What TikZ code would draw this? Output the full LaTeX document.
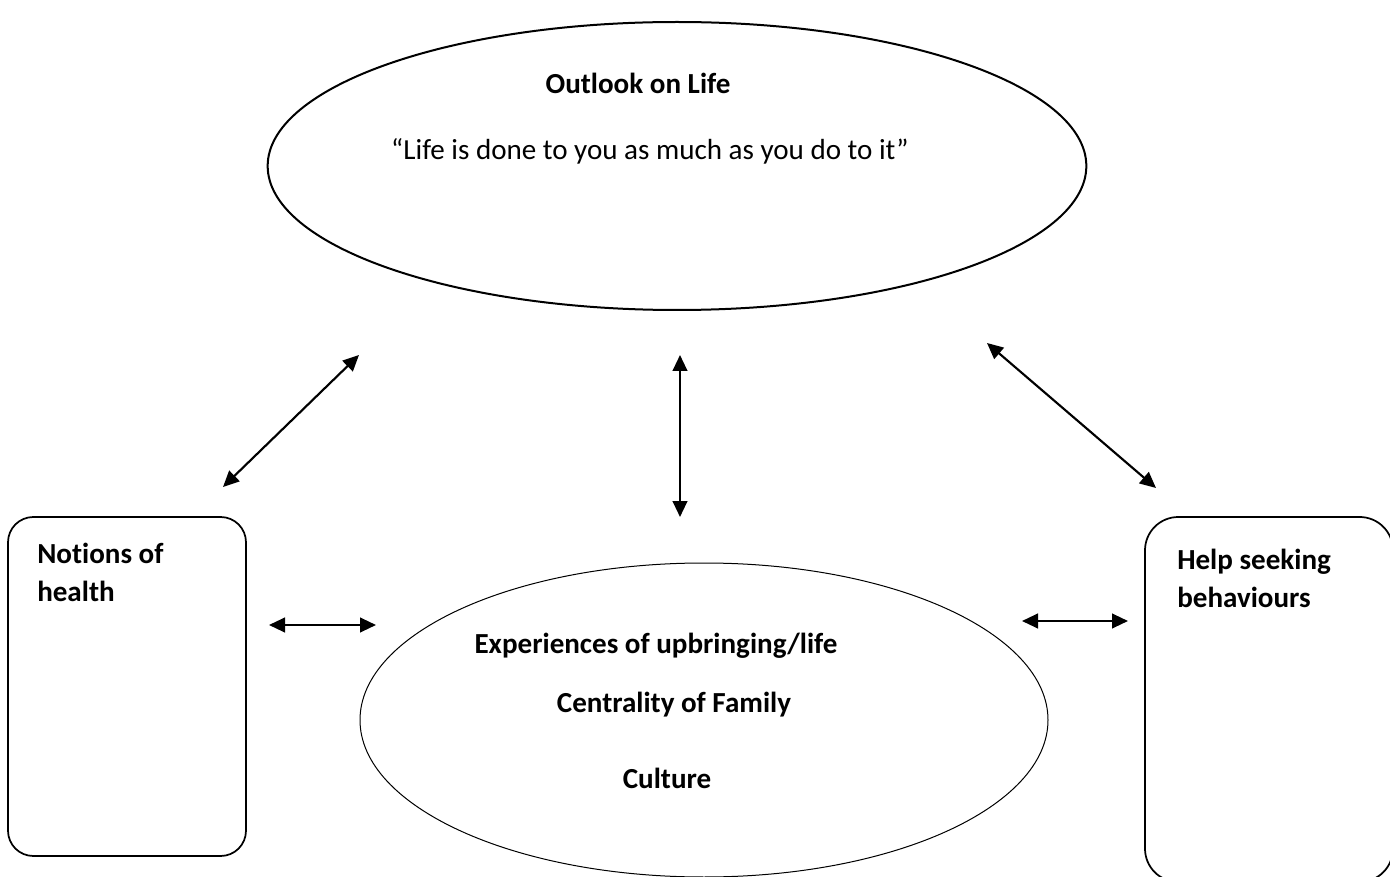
\documentclass[tikz,border=0pt]{standalone}
\usepackage{fontspec}
\setmainfont{Carlito}[Ligatures=NoCommon]
\usetikzlibrary{shapes.geometric,arrows.meta}
\begin{document}
\begin{tikzpicture}[x=0.75pt,y=-0.75pt,
  lbl/.style={font=\fontsize{21.8}{26}\selectfont, inner sep=0pt, anchor=base},
  blbl/.style={font=\fontsize{21.8}{26}\selectfont\bfseries, inner sep=0pt, anchor=base},
  bblbl/.style={blbl, anchor=base west},
  roundbox/.style={draw, line width=1.3pt, rectangle, inner sep=0pt},
  link/.style={line width=1.6pt, {Triangle[length=12pt,width=11pt]}-{Triangle[length=12pt,width=11pt]}},
  ]
\useasboundingbox (0,0) rectangle (1390,877);
\clip (0,0) rectangle (1390,877);
% shapes
\node[ellipse, draw, line width=1.5pt, inner sep=0pt, minimum width=614pt, minimum height=216pt] (outlook) at (677,166) {};
\node[ellipse, draw, line width=0.75pt, inner sep=0pt, minimum width=516pt, minimum height=235.5pt] (exper) at (704,720) {};
\node[roundbox, rounded corners=19pt, minimum width=178.5pt, minimum height=254.25pt] (health) at (127,686.5) {};
\node[roundbox, rounded corners=25pt, minimum width=186pt, minimum height=273.75pt] (help) at (1269,699.5) {};
% texts
\node[blbl] (t1) at (638,94) {Outlook on Life};
\node[lbl] (t2) at (650,160) {“Life is done to you as much as you do to it”};
\node[blbl] (t3) at (656,653) {Experiences of upbringing/life};
\node[blbl] (t4) at (674,712) {Centrality of Family};
\node[blbl] (t5) at (667,788) {Culture};
\node[bblbl] (t6) at (37,563) {Notions of};
\node[bblbl] (t7) at (37,601) {health};
\node[bblbl] (t8) at (1177,569) {Help seeking};
\node[bblbl] (t9) at (1177,607) {behaviours};
% connector ends
\coordinate (a1s) at (223,487);
\coordinate (a1e) at (359,355);
\coordinate (a2s) at (680,355);
\coordinate (a2e) at (680,517);
\coordinate (a3s) at (987,343);
\coordinate (a3e) at (1156,488);
\coordinate (a4s) at (269,625);
\coordinate (a4e) at (376,625);
\coordinate (a5s) at (1022,621);
\coordinate (a5e) at (1128,621);
\draw[link] (a1s) -- (a1e);
\draw[link] (a2s) -- (a2e);
\draw[link] (a3s) -- (a3e);
\draw[link] (a4s) -- (a4e);
\draw[link] (a5s) -- (a5e);
\end{tikzpicture}
\end{document}
